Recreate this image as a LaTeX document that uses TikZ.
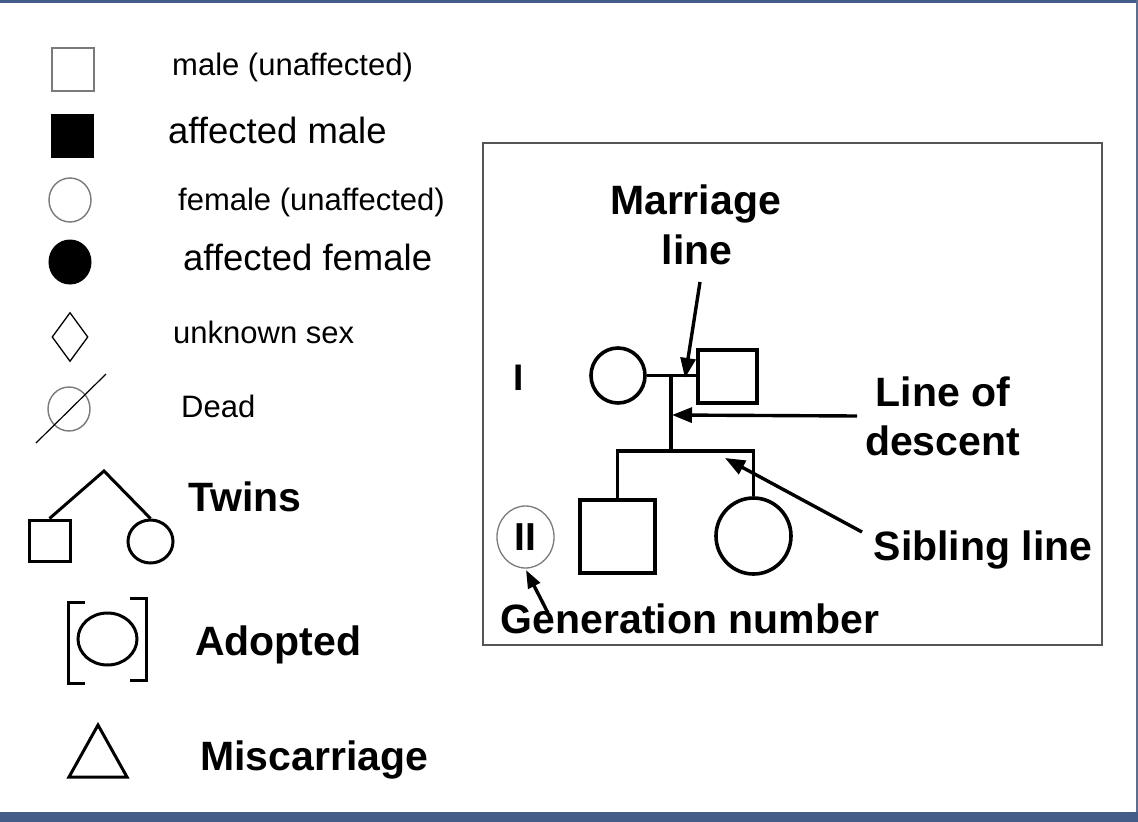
\documentclass[tikz,border=0pt]{standalone}
\usepackage{fontspec}
\setmainfont{Liberation Sans}
\usetikzlibrary{arrows.meta,shapes.geometric}
\definecolor{frameblue}{HTML}{435D88}
\definecolor{frameline}{HTML}{5B6D90}
\definecolor{boxgray}{HTML}{555555}
\definecolor{symgray}{HTML}{7A7A7A}
\begin{document}
\begin{tikzpicture}[x=1pt,y=-1pt,
  lbl/.style={anchor=base west, inner sep=0pt, font=\fontsize{31}{36}\selectfont},
  lblbig/.style={anchor=base west, inner sep=0pt, font=\fontsize{36.5}{42}\selectfont},
  boldlbl/.style={anchor=base west, inner sep=0pt, font=\bfseries\fontsize{41}{48}\selectfont},
  boxlbl/.style={anchor=base, inner sep=0pt, font=\bfseries\fontsize{41}{48}\selectfont},
  thinsym/.style={draw=symgray, line width=1.4pt, inner sep=0pt},
  filledsym/.style={draw=black, fill=black, line width=1pt, inner sep=0pt},
  thicksym/.style={draw=black, line width=3pt, inner sep=0pt},
  pedsym/.style={draw=black, line width=3.6pt, inner sep=0pt},
  pedline/.style={line width=3.6pt, line join=miter},
  callout/.style={line width=3.4pt, -{Triangle[length=20pt,width=15pt]}},
]
\useasboundingbox (0,0) rectangle (1138,822);
\fill[white] (0,0) rectangle (1138,822);
% frame
\fill[frameblue] (0,0) rectangle (1138,2.5);
\fill[frameline] (1135.5,0) rectangle (1138,812);
\fill[frameblue] (0,812) rectangle (1138,822);

% ---------- legend ----------
\node[thinsym, rectangle, minimum width=42pt, minimum height=43pt] (lmale) at (73,69.5) {};
\node[lbl] (tmale) at (172,75) {male (unaffected)};

\node[filledsym, rectangle, minimum width=42pt, minimum height=43pt] (laffm) at (72,135.5) {};
\node[lblbig] (taffm) at (168,143) {affected male};

\node[thinsym, ellipse, minimum width=42pt, minimum height=44pt] (lfem) at (70,200) {};
\node[lbl] (tfem) at (178,210) {female (unaffected)};

\node[filledsym, ellipse, minimum width=42pt, minimum height=44pt] (laff) at (70,262) {};
\node[lblbig] (taff) at (183,270) {affected female};

\node[draw=black, line width=1.3pt, inner sep=0pt, diamond, minimum width=36pt, minimum height=49pt] (lunk) at (70,337) {};
\node[lbl] (tunk) at (173,343) {unknown sex};

\node[thinsym, ellipse, minimum width=42pt, minimum height=44pt] (ldead) at (69,409) {};
\coordinate (slashA) at (36,443);
\coordinate (slashB) at (106,374);
\draw[line width=1.2pt] (slashA) -- (slashB);
\node[lbl] (tdead) at (181,417) {Dead};

% twins
\coordinate (apex) at (104,471);
\node[thicksym, rectangle, minimum width=41pt, minimum height=41pt] (tsq) at (49.5,540.5) {};
\node[thicksym, ellipse, minimum width=45pt, minimum height=43pt] (tci) at (150.5,541.5) {};
\draw[line width=3pt] (tsq.north) -- (apex) -- (tci.north);
\node[boldlbl] (ttwins) at (188,511) {Twins};

% adopted
\node[thicksym, ellipse, minimum width=59pt, minimum height=52pt] (adc) at (107.5,639) {};
\draw[line width=3pt] (85,602) -- (68,602) -- (68,683) -- (85,683);
\draw[line width=3pt] (130,598) -- (146,598) -- (146,680) -- (130,680);
\node[boldlbl] (tadopt) at (195,655) {Adopted};

% miscarriage
\draw[line width=3pt, line join=miter] (98,725) -- (127,777) -- (69,777) -- cycle;
\node[boldlbl] (tmisc) at (200,770) {Miscarriage};

% ---------- pedigree box ----------
\draw[boxgray, line width=2pt] (483,143) rectangle (1102,645);

\node[pedsym, ellipse, minimum width=54pt, minimum height=55pt] (f1) at (618,375.5) {};
\node[pedsym, rectangle, minimum width=59pt, minimum height=53pt] (m1) at (727.5,376.5) {};
\draw[pedline] (f1.east) -- (f1.east -| m1.west);

\coordinate (dtop) at (671,376);
\coordinate (djoin) at (671,451);
\draw[pedline] (dtop) -- (djoin);

\node[pedsym, rectangle, minimum width=75pt, minimum height=73pt] (c1) at (617.5,536.5) {};
\node[pedsym, ellipse, minimum width=75pt, minimum height=76pt] (c2) at (753.5,536) {};
\coordinate (sl) at (c1.north |- djoin);
\coordinate (sr) at (c2.north |- djoin);
\draw[pedline] (c1.north) -- (sl) -- (sr) -- (c2.north);

\node[boxlbl, font=\bfseries\fontsize{37}{44}\selectfont] (gen1) at (519,390) {I};
\node[draw=symgray, line width=1.3pt, ellipse, inner sep=0pt, minimum width=57pt, minimum height=62pt,
      font=\bfseries\fontsize{39}{46}\selectfont] (gen2) at (525.5,537) {II};

\node[boxlbl] (tmar1) at (695.5,214) {Marriage};
\node[boxlbl] (tmar2) at (697,264) {line};
\node[boxlbl] (tdesc1) at (943,406) {Line of};
\node[boxlbl] (tdesc2) at (942.5,455) {descent};
\node[boxlbl] (tsib) at (983,560) {Sibling line};
\node[boxlbl] (tgen) at (690,633) {Generation number};

\coordinate (marT) at (700,282);
\coordinate (marH) at (685,378);
\coordinate (desT) at (857,416);
\coordinate (desH) at (672,415);
\coordinate (sibT) at (862,532);
\coordinate (sibH) at (725,458);
\coordinate (genT) at (548,613);
\coordinate (genH) at (526,570);
\draw[callout] (marT) -- (marH);
\draw[callout] (desT) -- (desH);
\draw[callout] (sibT) -- (sibH);
\draw[callout, -{Triangle[length=18pt,width=13pt]}] (genT) -- (genH);
\end{tikzpicture}
\end{document}
